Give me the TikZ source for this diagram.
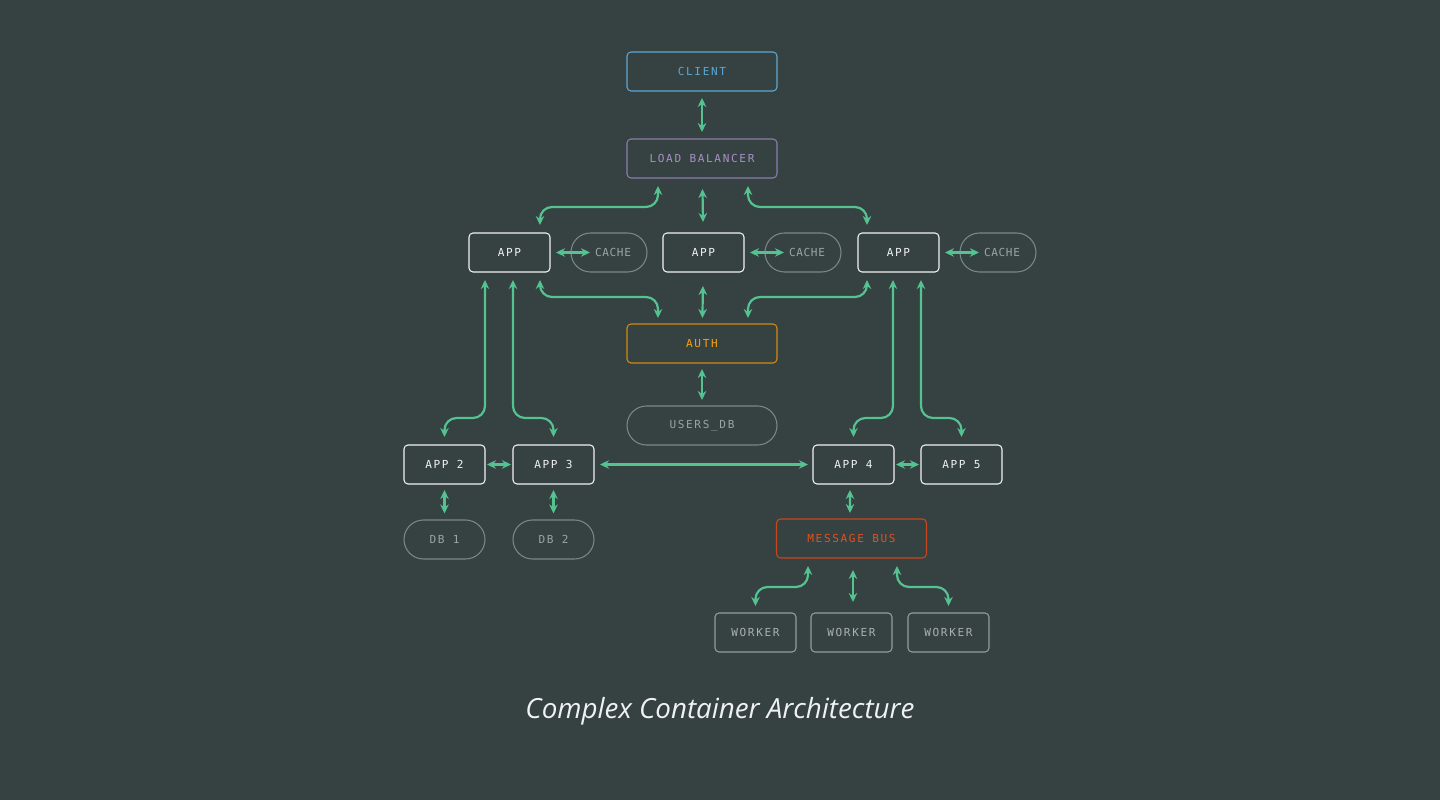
\documentclass[tikz,border=0pt]{standalone}
\usepackage{fontspec}
\usepackage{tikz}
\usetikzlibrary{arrows.meta,positioning,calc}
\setmainfont{Open Sans}
\newfontfamily\boxfont{DejaVu Sans Mono}[LetterSpace=15]
\newfontfamily\pillfont{DejaVu Sans Mono}[LetterSpace=6]
\definecolor{ccBg}{HTML}{364142}
\definecolor{ccLink}{HTML}{55C391}
\definecolor{ccClient}{HTML}{5BA8D4}
\definecolor{ccLb}{HTML}{A890C6}
\definecolor{ccLbLine}{HTML}{8E7AAE}
\definecolor{ccApp}{HTML}{F2F2F2}
\definecolor{ccPill}{HTML}{7B8888}
\definecolor{ccPillText}{HTML}{9AA4A4}
\definecolor{ccAuth}{HTML}{F2A30F}
\definecolor{ccAuthLine}{HTML}{D08C12}
\definecolor{ccBus}{HTML}{E5501F}
\definecolor{ccBusLine}{HTML}{C8461E}
\definecolor{ccWorker}{HTML}{959C9C}
\definecolor{ccWorkerText}{HTML}{AAB0B0}
\definecolor{ccTitle}{HTML}{EEF2F2}
\newcommand{\lbl}{\boxfont\fontsize{6.3}{7.4}\selectfont}
\newcommand{\cachelbl}{\hspace*{0.16cm}\pillfont\fontsize{6.3}{7.4}\selectfont CACHE}

\begin{document}
\begin{tikzpicture}[node distance=1cm]
\tikzset{
  base/.style={rectangle, rounded corners=0.08cm, line width=0.6pt, minimum height=0.78cm,
               inner sep=0pt, outer sep=0pt, font=\lbl},
  k/.style={base, minimum width=3cm},
  a/.style={base, minimum width=1.62cm, draw=ccApp, text=ccApp},
  c/.style={base, rounded corners=0.39cm, minimum width=1.52cm, draw=ccPill, text=ccPillText},
  wk/.style={base, minimum width=1.62cm, draw=ccWorker, text=ccWorkerText},
  l/.style={{Stealth[length=1.8mm,width=1.7mm]}-{Stealth[length=1.8mm,width=1.7mm]}, draw=ccLink,
            line width=1.25pt, rounded corners=0.24cm, shorten <=0.14cm, shorten >=0.14cm}
}

\fill[ccBg] (-14.04,1.43) rectangle (14.76,-14.57);

\node[k, draw=ccClient, text=ccClient] (client) at (0,0) {CLIENT};
\node[k, draw=ccLbLine, text=ccLb, below=0.96cm of client] (lb) {LOAD BALANCER};

% App tier with caches
\node[a, below=1.1cm of lb, xshift=0.03cm] (appM) {APP};
\node[a, left=2.26cm of appM] (appL) {APP};
\node[a, right=2.28cm of appM] (appR) {APP};
\node[c, right=0.42cm of appL] (cacheL) {\cachelbl};
\node[c, right=0.42cm of appM] (cacheM) {\cachelbl};
\node[c, right=0.42cm of appR] (cacheR) {\cachelbl};

\node[k, draw=ccAuthLine, text=ccAuth, below=2.92cm of lb] (auth) {AUTH};
\node[c, minimum width=3cm, below=0.86cm of auth] (usersdb) {USERS\_DB};

% Lower row
\node[a, below=0pt of usersdb.south, xshift=-2.97cm] (app3) {APP 3};
\node[a, left=0.56cm of app3] (app2) {APP 2};
\node[a, below=0pt of usersdb.south, xshift=3.03cm] (app4) {APP 4};
\node[a, right=0.54cm of app4] (app5) {APP 5};
\node[c, minimum width=1.62cm, below=0.72cm of app2] (db1) {DB 1};
\node[c, minimum width=1.62cm, below=0.72cm of app3] (db2) {DB 2};
\node[k, draw=ccBusLine, text=ccBus, below=0.7cm of app4, xshift=-0.04cm] (bus) {MESSAGE BUS};
\node[wk, below=1.1cm of bus] (w2) {WORKER};
\node[wk, left=0.3cm of w2] (w1) {WORKER};
\node[wk, right=0.32cm of w2] (w3) {WORKER};

\node[font=\fontsize{15.8}{18}\selectfont\itshape, text=ccTitle] (title)
  at ([xshift=0.36cm,yshift=-12.8cm]client.center) {Complex Container Architecture};

% Top spine
\draw[l] (client) -- (lb);
\draw[l, shorten <=0.22cm, shorten >=0.22cm] (lb) -- (appM);
\draw[l, shorten <=0.16cm, shorten >=0.16cm] ([xshift=-0.88cm]lb.south) -- ++(0,-0.58cm) -| ([xshift=0.61cm]appL.north);
\draw[l, shorten <=0.16cm, shorten >=0.16cm] ([xshift=0.92cm]lb.south) -- ++(0,-0.58cm) -| ([xshift=-0.63cm]appR.north);

% Caches
\draw[l, shorten <=0.12cm, shorten >=0pt] (appL.east) -- ([xshift=0.38cm]cacheL.west);
\draw[l, shorten <=0.12cm, shorten >=0pt] (appM.east) -- ([xshift=0.38cm]cacheM.west);
\draw[l, shorten <=0.12cm, shorten >=0pt] (appR.east) -- ([xshift=0.38cm]cacheR.west);

% Auth
\draw[l, shorten <=0.28cm, shorten >=0.12cm] (appM) -- (auth);
\draw[l, shorten <=0.16cm, shorten >=0.12cm] ([xshift=0.61cm]appL.south) -- ++(0,-0.5cm) -| ([xshift=-0.88cm]auth.north);
\draw[l, shorten <=0.16cm, shorten >=0.12cm] ([xshift=-0.63cm]appR.south) -- ++(0,-0.5cm) -| ([xshift=0.92cm]auth.north);
\draw[l, shorten <=0.12cm, shorten >=0.12cm] (auth) -- (usersdb);

% Fan out to lower row
\draw[l, shorten <=0.16cm, shorten >=0.16cm] ([xshift=-0.49cm]appL.south) -- ++(0,-2.92cm) -| (app2.north);
\draw[l, shorten <=0.16cm, shorten >=0.16cm] ([xshift=0.07cm]appL.south) -- ++(0,-2.92cm) -| (app3.north);
\draw[l, shorten <=0.16cm, shorten >=0.16cm] ([xshift=-0.11cm]appR.south) -- ++(0,-2.92cm) -| (app4.north);
\draw[l, shorten <=0.16cm, shorten >=0.16cm] ([xshift=0.45cm]appR.south) -- ++(0,-2.92cm) -| (app5.north);

\draw[l, shorten <=0.04cm, shorten >=0.04cm] (app2) -- (app3);
\draw[l, shorten <=0.12cm, shorten >=0.1cm] (app3) -- (app4);
\draw[l, shorten <=0.04cm, shorten >=0.04cm] (app4) -- (app5);

\draw[l, shorten <=0.12cm, shorten >=0.13cm] (app2) -- (db1);
\draw[l, shorten <=0.12cm, shorten >=0.13cm] (app3) -- (db2);
\draw[l, shorten <=0.12cm, shorten >=0.12cm] ([xshift=-0.07cm]app4.south) -- ([xshift=-0.03cm]bus.north);

% Workers
\draw[l, shorten <=0.16cm, shorten >=0.14cm] ([xshift=-0.87cm]bus.south) -- ++(0,-0.58cm) -| (w1.north);
\draw[l, shorten <=0.24cm, shorten >=0.22cm] ([xshift=0.03cm]bus.south) -- ([xshift=0.03cm]w2.north);
\draw[l, shorten <=0.16cm, shorten >=0.14cm] ([xshift=0.91cm]bus.south) -- ++(0,-0.58cm) -| (w3.north);
\end{tikzpicture}
\end{document}
